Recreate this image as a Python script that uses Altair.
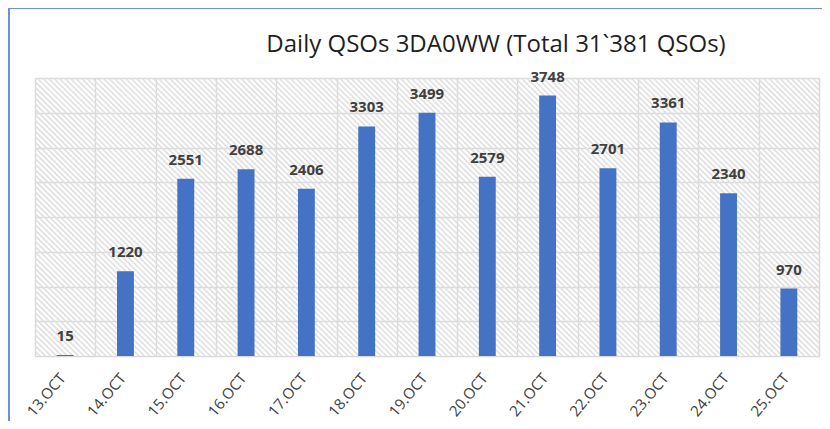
import altair as alt
import pandas as pd

days = ["13.OCT", "14.OCT", "15.OCT", "16.OCT", "17.OCT", "18.OCT", "19.OCT",
        "20.OCT", "21.OCT", "22.OCT", "23.OCT", "24.OCT", "25.OCT"]
qsos = [15, 1220, 2551, 2688, 2406, 3303, 3499, 2579, 3748, 2701, 3361, 2340, 970]
title_text = "Daily QSOs 3DA0WW (Total 31`381 QSOs)"
y_ticks = [0, 500, 1000, 1500, 2000, 2500, 3000, 3500, 4000]

W, H = 784, 278
FONT = "Open Sans, sans-serif"

df = pd.DataFrame({"day": days, "qsos": qsos})

# hatch background (decorative pattern)
hatch = alt.Chart(alt.sequence(start=-H - 6, stop=W + 6, step=5.5, as_="k")).transform_calculate(
    k2="datum.k + %d" % H, ytop="%d" % H, ybot="0"
).mark_rule(color="#e0e0e0", strokeWidth=1.6, clip=True).encode(
    x=alt.X("k:Q", scale=alt.Scale(domain=[0, W], nice=False, zero=False), axis=None),
    x2="k2:Q",
    y=alt.Y("ytop:Q", scale=alt.Scale(domain=[0, H], nice=False), axis=None),
    y2="ybot:Q",
)

xaxis = alt.Axis(labelAngle=-50, grid=True, tickBand="extent", gridColor="#d9d9d9",
                 gridWidth=1.5, domain=False, ticks=False, labelPadding=19, labelOffset=-3,
                 labelAlign="right", labelBaseline="middle",
                 labelFont=FONT, labelFontSize=15, labelColor="#404040")
yaxis = alt.Axis(values=y_ticks, labels=False, ticks=False, domain=False,
                 grid=True, gridColor="#d9d9d9", gridWidth=1.5)
xscale = alt.Scale(paddingInner=0, paddingOuter=0)
yscale = alt.Scale(domain=[0, 4000], nice=False)

bars = alt.Chart(df).mark_bar(color="#4472C4", width=alt.RelativeBandSize(0.28)).encode(
    x=alt.X("day:N", sort=days, title=None, scale=xscale, axis=xaxis),
    y=alt.Y("qsos:Q", title=None, scale=yscale, axis=yaxis))

labels = alt.Chart(df).mark_text(dy=-19, font=FONT, fontSize=15, fontWeight="bold",
                                 color="#404040").encode(
    x=alt.X("day:N", sort=days, title=None, scale=xscale, axis=xaxis),
    y=alt.Y("qsos:Q", title=None, scale=yscale, axis=yaxis),
    text="qsos:Q")

front = alt.layer(bars, labels)

one = pd.DataFrame({"a": [0]})
title_mark = alt.Chart(one).mark_text(text=title_text, font=FONT, fontSize=24,
                                      color="#1f1f1f", baseline="alphabetic",
                                      align="center").encode(
    x=alt.value(461), y=alt.value(-26))

border = alt.Chart(one).mark_rule(color="#6f8fd8", strokeWidth=2).encode(
    x=alt.value(-26), x2=alt.value(-26), y=alt.value(-71), y2=alt.value(360))
border_top = alt.Chart(one).mark_rule(color="#6f8fd8", strokeWidth=2).encode(
    x=alt.value(-27), x2=alt.value(800), y=alt.value(-70), y2=alt.value(-70))

chart = alt.layer(hatch, front, title_mark, border, border_top).resolve_scale(
    x="independent", y="independent"
).properties(
    width=W, height=H,
    autosize=alt.AutoSizeParams(type="none"),
    padding={"left": 27, "top": 70, "right": 3, "bottom": 65},
).configure_view(stroke="#d9d9d9", strokeWidth=1.5).configure(background="white")

chart.save("out.html", embed_options={"renderer": "svg", "actions": False})
